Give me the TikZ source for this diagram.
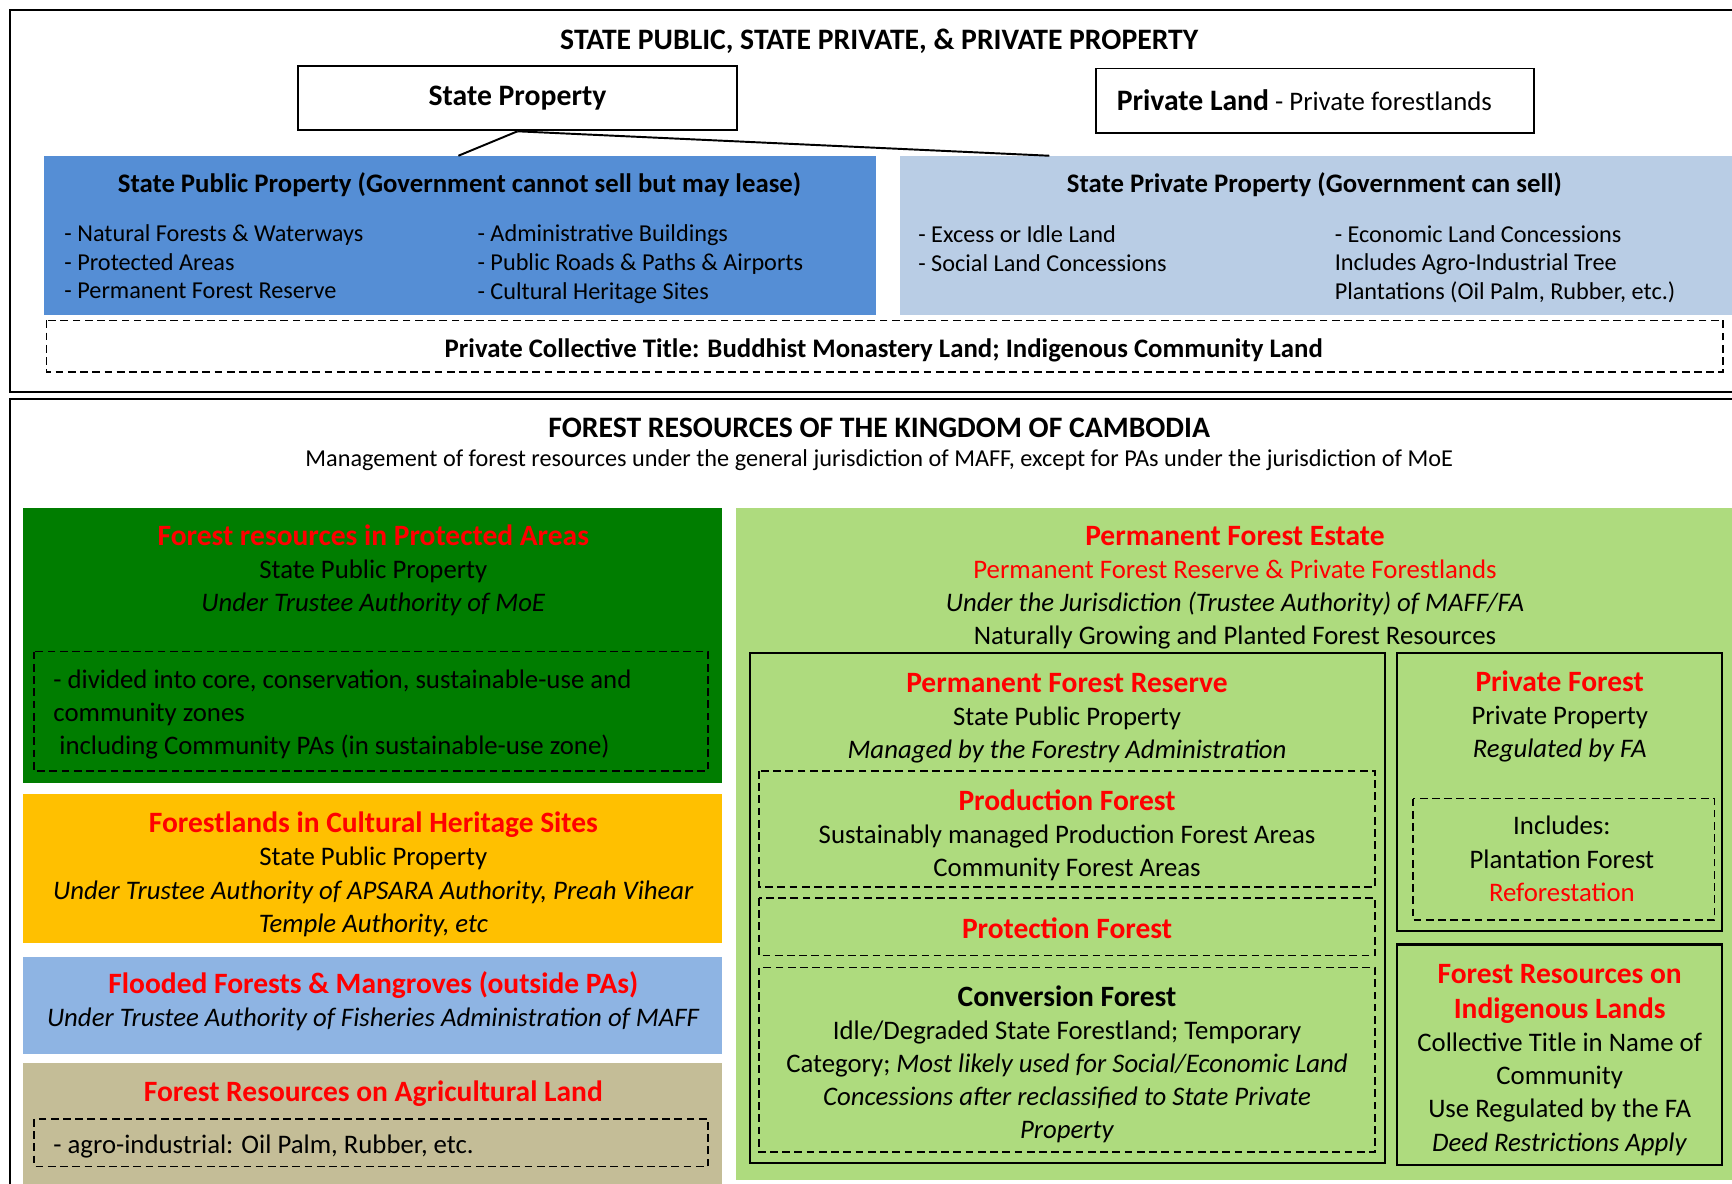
\documentclass[tikz,border=0pt]{standalone}
\usepackage{fontspec}
\setmainfont{Carlito}

\definecolor{pubblue}{RGB}{85,142,213}
\definecolor{privblue}{RGB}{185,205,229}
\definecolor{pagreen}{RGB}{0,125,0}
\definecolor{heritage}{RGB}{255,192,0}
\definecolor{floodblue}{RGB}{142,180,227}
\definecolor{agritan}{RGB}{196,189,151}
\definecolor{pfegreen}{RGB}{174,219,126}

\newcommand\fsTop{\fontsize{12.5}{14.8}\selectfont}
\newcommand\fsHead{\fontsize{13.8}{16}\selectfont\bfseries}
\newcommand\fsTitle{\fontsize{15.3}{18}\selectfont\bfseries}
\newcommand\fsBot{\fontsize{13.8}{17.07}\selectfont}
\newcommand\hdr[1]{{\fontsize{15.2}{17.07}\selectfont\bfseries\color{red}#1}}

\begin{document}
\begin{tikzpicture}[x=0.02cm,y=-0.02cm,
  frame/.style={draw=black,line width=1pt},
  solidbox/.style={draw=black,line width=1.1pt},
  dashbox/.style={draw=black,line width=0.8pt,dash pattern=on 4pt off 2.3pt},
  link/.style={draw=black,line width=1pt},
  toptxt/.style={inner sep=0pt,align=left,font=\fsTop},
  bottxt/.style={inner sep=0pt,align=center,font=\fsBot},
  topbox/.style={draw=black,line width=1pt,minimum width=7.94cm,minimum height=1.16cm}]
\clip (0,0) rectangle (1568,1071);

% Outer frames
\draw[frame] (9,9) rectangle (1600,355);
\draw[frame] (9,361) rectangle (1600,1100);

% Property types
\node[inner sep=0pt,font=\fsTitle] (proptitle) at (796,37) {STATE PUBLIC, STATE PRIVATE, \& PRIVATE PROPERTY};
\node[topbox,font=\fsTitle] (stateprop) at (468.5,89) {State Property};
\node[topbox,font=\fontsize{13.8}{16}\selectfont,inner xsep=0.38cm,text width=7.18cm,align=flush left] (privland) at (1190.5,91) {{\fsTitle Private Land} - Private forestlands};

\fill[pubblue] (40,141) rectangle (793,285);
\fill[privblue] (815,141) rectangle (1600,285);
\coordinate (pubtop) at (415,141);
\coordinate (privtop) at (950,141);
\draw[link] (stateprop.south) -- (pubtop);
\draw[link] (stateprop.south) -- (privtop);

\node[inner sep=0pt,font=\fsHead] (pubhead) at (416,167) {State Public Property (Government cannot sell but may lease)};
\node[toptxt,anchor=west] (publeft) at (58,237) {- Natural Forests \& Waterways\\- Protected Areas\\- Permanent Forest Reserve};
\node[toptxt,anchor=west] (pubright) at (432,239) {- Administrative Buildings\\- Public Roads \& Paths \& Airports\\- Cultural Heritage Sites};

\node[inner sep=0pt,font=\fsHead] (privhead) at (1190,167) {State Private Property (Government can sell)};
\node[toptxt,anchor=west] (privleft) at (831,225) {- Excess or Idle Land\\- Social Land Concessions};
\node[toptxt,anchor=west] (privright) at (1208,239) {- Economic Land Concessions\\Includes Agro-Industrial Tree\\Plantations (Oil Palm, Rubber, etc.)};

\draw[dashbox] (42,290) rectangle (1560,337);
\node[inner sep=0pt,font=\fsHead] (collective) at (800,317) {Private Collective Title: Buddhist Monastery Land; Indigenous Community Land};

% Forest resources
\node[inner sep=0pt,font=\fsTitle] (forestitle) at (796,387) {FOREST RESOURCES OF THE KINGDOM OF CAMBODIA};
\node[inner sep=0pt,font=\fsTop] (forestsub) at (796,417) {Management of forest resources under the general jurisdiction of MAFF, except for PAs under the jurisdiction of MoE};

% Left column
\fill[pagreen] (21,460) rectangle (654,709);
\node[bottxt] (pa) at (338,516.5) {\hdr{Forest resources in Protected Areas}\\State Public Property\\\textit{Under Trustee Authority of MoE}};
\draw[dashbox] (31,590) rectangle (641,698);
\node[bottxt,align=left,anchor=west] (pazones) at (48,647) {- divided into core, conservation, sustainable-use and\\community zones\\\ including Community PAs (in sustainable-use zone)};

\fill[heritage] (21,719) rectangle (654,854);
\node[bottxt] (heritagesites) at (338,791.5) {\hdr{Forestlands in Cultural Heritage Sites}\\State Public Property\\\textit{Under Trustee Authority of APSARA Authority, Preah Vihear}\\\textit{Temple Authority, etc}};

\fill[floodblue] (21,866) rectangle (654,954);
\node[bottxt] (flooded) at (338,906.5) {\hdr{Flooded Forests \& Mangroves (outside PAs)}\\\textit{Under Trustee Authority of Fisheries Administration of MAFF}};

\fill[agritan] (21,962) rectangle (654,1100);
\node[bottxt] (agri) at (338,990) {\hdr{Forest Resources on Agricultural Land}};
\draw[dashbox] (31,1013) rectangle (641,1056);
\node[bottxt,anchor=west] (agroind) at (48,1038) {- agro-industrial: Oil Palm, Rubber, etc.};

% Permanent Forest Estate
\fill[pfegreen] (666,460) rectangle (1600,1068);
\node[bottxt] (pfe) at (1118,532) {\hdr{Permanent Forest Estate}\\\textcolor{red}{Permanent Forest Reserve \& Private Forestlands}\\\textit{Under the Jurisdiction (Trustee Authority) of MAFF/FA}\\Naturally Growing and Planted Forest Resources};

\draw[solidbox] (679,591) rectangle (1254,1053);
\node[bottxt] (pfr) at (966,650.5) {\hdr{Permanent Forest Reserve}\\State Public Property\\\textit{Managed by the Forestry Administration}};
\draw[dashbox] (687,698) rectangle (1245,803);
\node[bottxt] (production) at (966,756.5) {\hdr{Production Forest}\\Sustainably managed Production Forest Areas\\Community Forest Areas};
\draw[dashbox] (687,813) rectangle (1245,865);
\node[bottxt] (protection) at (966,840) {\hdr{Protection Forest}};
\draw[dashbox] (687,876) rectangle (1245,1043);
\node[bottxt] (conversion) at (966,963.5) {{\fontsize{15.2}{17.07}\selectfont\bfseries Conversion Forest}\\Idle/Degraded State Forestland; Temporary\\Category; \textit{Most likely used for Social/Economic Land}\\\textit{Concessions after reclassified to State Private}\\\textit{Property}};

\draw[solidbox] (1265,591) rectangle (1559,843);
\node[bottxt] (privforest) at (1412,648.5) {\hdr{Private Forest}\\Private Property\\\textit{Regulated by FA}};
\draw[dashbox] (1279,723) rectangle (1552,833);
\node[bottxt] (includes) at (1414,777.5) {Includes:\\Plantation Forest\\\textcolor{red}{Reforestation}};

\draw[solidbox] (1265,855) rectangle (1559,1055);
\node[bottxt] (indigenous) at (1412,959.5) {\hdr{Forest Resources on}\\[1pt]\hdr{Indigenous Lands}\\Collective Title in Name of\\Community\\Use Regulated by the FA\\\textit{Deed Restrictions Apply}};
\end{tikzpicture}
\end{document}
